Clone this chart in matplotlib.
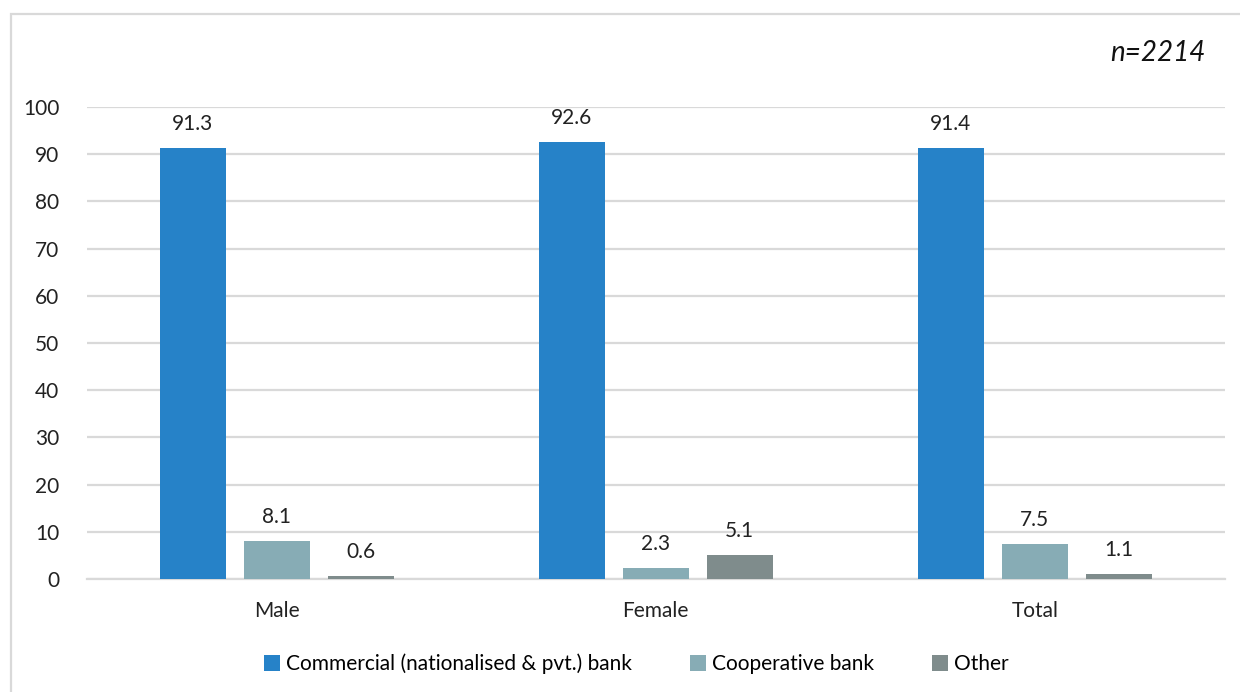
import matplotlib
matplotlib.use("Agg")
import matplotlib.pyplot as plt
from matplotlib.patches import Rectangle
import numpy as np

plt.rcParams['font.family'] = ['Lato', 'DejaVu Sans']

groups = ["Male", "Female", "Total"]
series = ["Commercial (nationalised & pvt.) bank", "Cooperative bank", "Other"]
commercial = [91.3, 92.6, 91.4]
cooperative = [8.1, 2.3, 7.5]
other = [0.6, 5.1, 1.1]
colors = ["#2682C8", "#87ACB5", "#7F8C8C"]

fig = plt.figure(figsize=(12.4, 6.92), dpi=100)
ax = fig.add_axes([0.0702, 0.1633, 0.9173, 0.6821])

# outer chart border
fig.patches.append(Rectangle((11/1240, -0.01), 1.02, 1 - 14/692 + 0.01,
                             transform=fig.transFigure, fill=False,
                             edgecolor="#D9D9D9", linewidth=1.6, clip_on=False))

x = np.arange(len(groups))
step = 0.2216
width = 0.174
for i, (vals, name) in enumerate(zip([commercial, cooperative, other], series)):
    bars = ax.bar(x + (i - 1) * step, vals, width, color=colors[i], label=name, zorder=3)
    for b, v in zip(bars, vals):
        ax.annotate(f"{v}", (b.get_x() + b.get_width() / 2, v),
                    xytext=(0, 10), textcoords="offset points",
                    ha="center", va="bottom", fontsize=15, color="#222222")

ax.set_xlim(-0.5, 2.5)
ax.set_ylim(0, 100)
ax.set_yticks(range(0, 101, 10))
ax.set_xticks(x)
ax.set_xticklabels(groups)
ax.grid(axis="y", color="#D9D9D9", linewidth=1.6, zorder=0)
for s in ["top", "right", "left"]:
    ax.spines[s].set_visible(False)
ax.spines["bottom"].set_color("#D9D9D9")
ax.spines["bottom"].set_linewidth(1.6)
ax.tick_params(axis="both", length=0, labelsize=15, colors="#222222")
ax.tick_params(axis="y", pad=20)
ax.tick_params(axis="x", pad=16)

ax.text(0.983, 1.115, "n=2214", transform=ax.transAxes, ha="right", va="center",
        fontsize=20, style="italic", color="#111111")

ax.legend(loc="center", bbox_to_anchor=(0.483, -0.18), ncol=3, frameon=False,
          fontsize=15, handlelength=0.75, handleheight=0.75, handletextpad=0.3,
          columnspacing=2.8)

fig.savefig("out.png", dpi=100)
